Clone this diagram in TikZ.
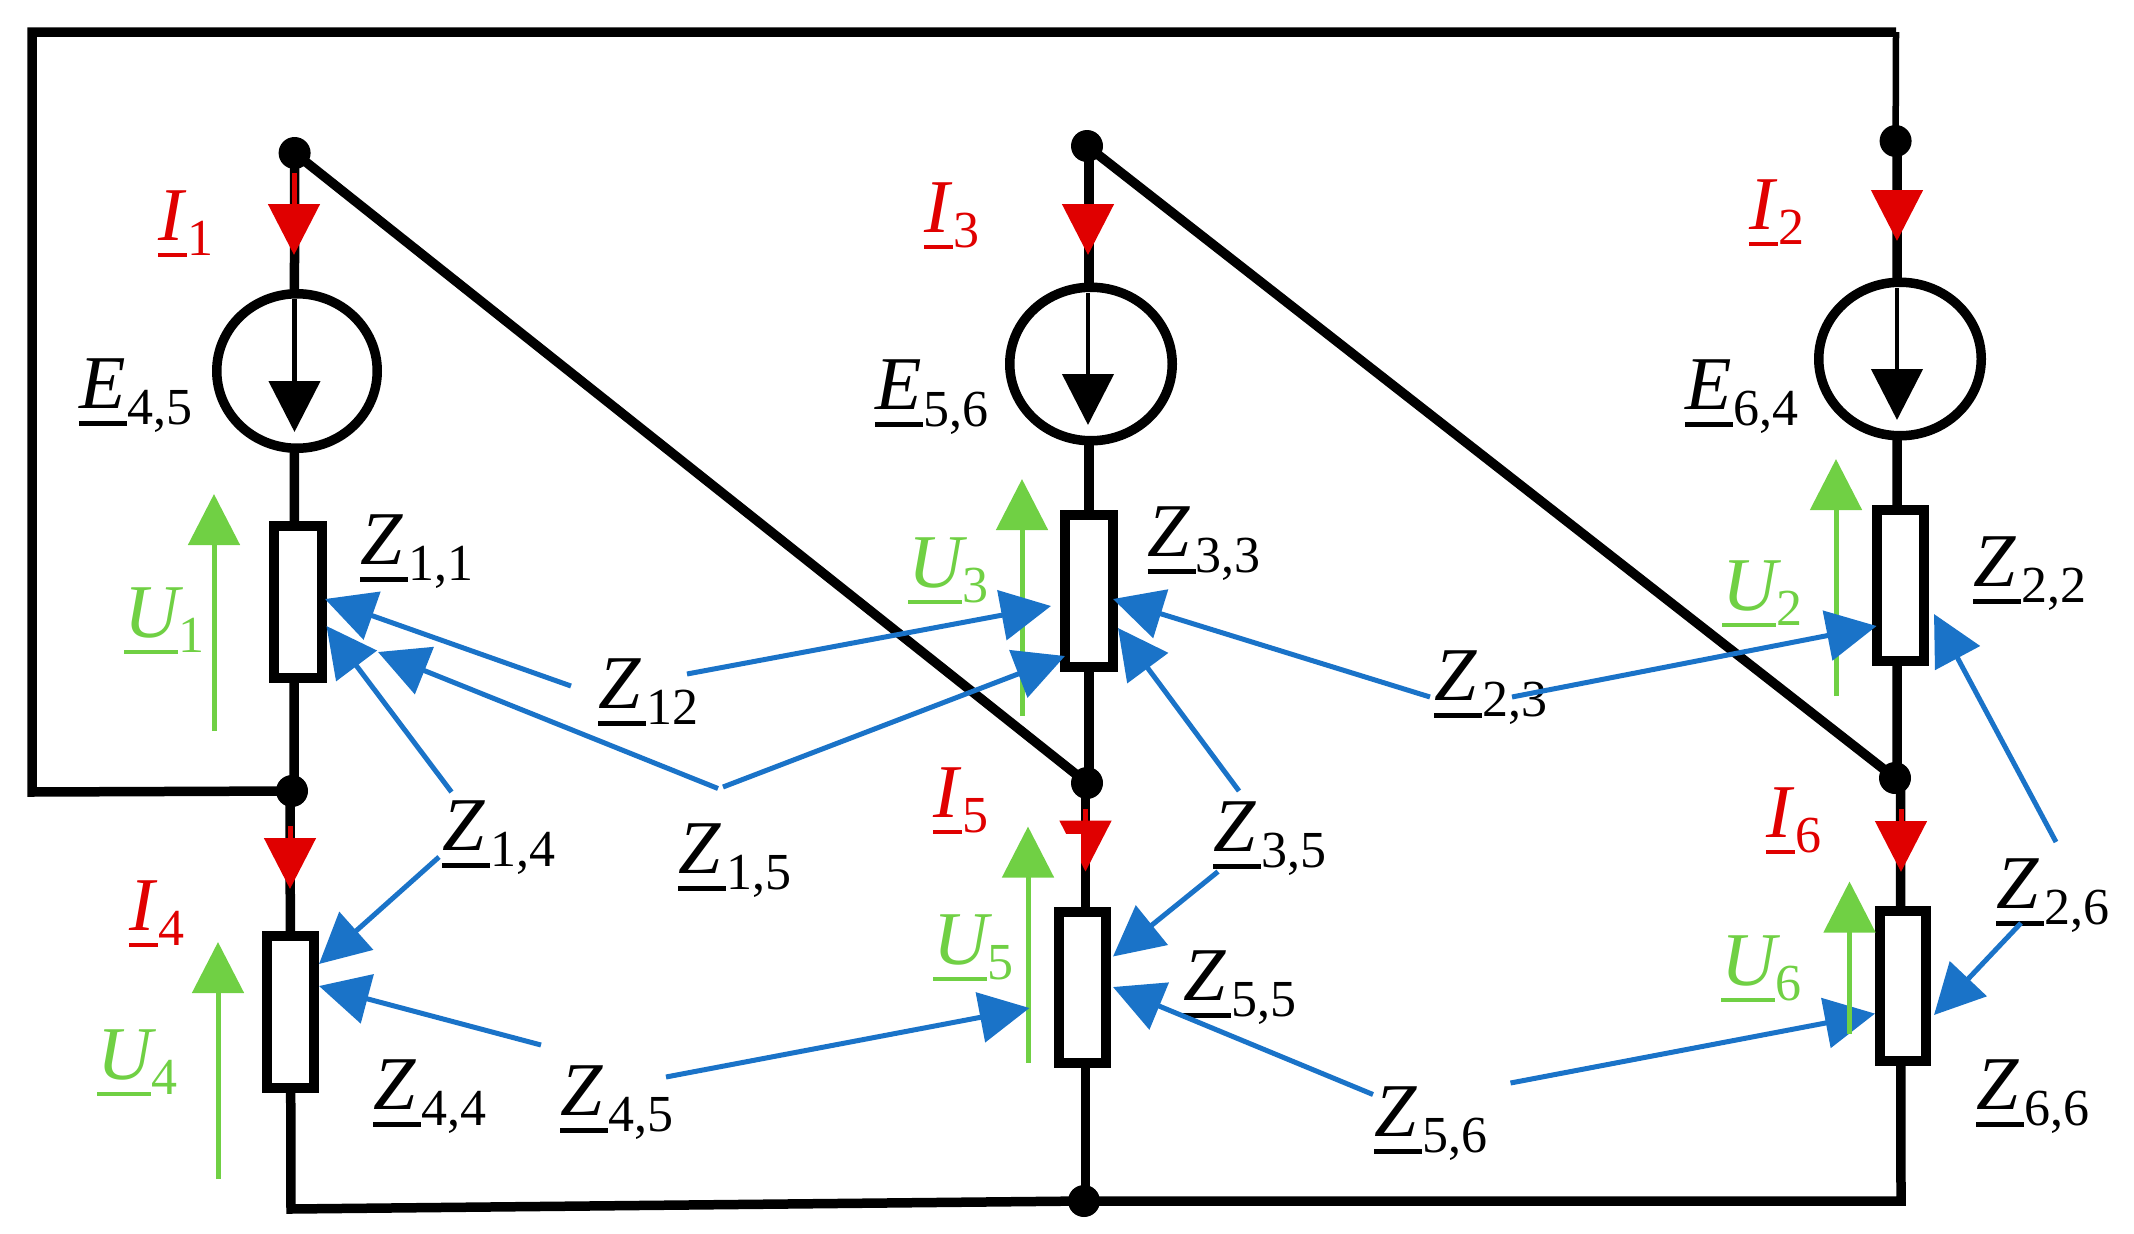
\documentclass[tikz,border=0pt]{standalone}
\usepackage{fontspec}
\setmainfont{Liberation Serif}
\usetikzlibrary{arrows.meta,shapes.geometric,backgrounds}
\definecolor{cblue}{HTML}{1A73C8}
\definecolor{cred}{HTML}{E00000}
\definecolor{cgreen}{HTML}{70D044}
% width, thickness, raise of sub, glyph, subscript
\newcommand\lablet[5]{%
  \makebox[0pt][l]{\rule[\dimexpr-#2pt/2\relax]{#1pt}{#2pt}}%
  \makebox[0pt][l]{\raisebox{15pt}{\fontsize{76}{76}\selectfont\itshape #4}}%
  \hspace*{#1pt}\raisebox{#3pt}{\fontsize{52}{52}\selectfont #5}}
\newcommand\zl[2]{\lablet{48}{5}{-1.5}{#1}{#2}}
\newcommand\ul[2]{\lablet{54}{3.5}{0}{#1}{#2}}
\newcommand\il[2]{\lablet{29}{3.5}{0}{#1}{#2}}
\tikzset{
  wire/.style={line width=9.5pt,line join=miter},
  thinwire/.style={line width=6.5pt},
  res/.style={draw,fill=white,line width=10pt,inner sep=0pt,outer sep=0pt},
  src/.style={ellipse,draw,fill=white,line width=9.5pt,inner sep=0pt,outer sep=0pt},
  dot/.style={circle,fill=black,inner sep=0pt,outer sep=0pt,minimum size=32pt},
  lab/.style={anchor=base west,inner sep=0pt,outer sep=0pt},
  blk/.style={line width=4.5pt,-{Triangle[length=51pt,width=51pt,fill=black]}},
  redarr/.style={cred,line width=5pt,-{Triangle[length=51pt,width=51pt,fill=cred]}},
  grnarr/.style={cgreen,line width=5pt,-{Triangle[length=51pt,width=51pt,fill=cgreen]}},
  bluarr/.style={cblue,line width=5pt,-{Triangle[length=50pt,width=50pt,fill=cblue]}},
}
\begin{document}
\begin{tikzpicture}[x=1pt,y=-1pt]
\useasboundingbox (0,0) rectangle (2134,1234);
% elements
\node[res,minimum width=48pt,minimum height=152pt] (r1) at (298,602) {};
\node[res,minimum width=48pt,minimum height=152.5pt] (r3) at (1089,591) {};
\node[res,minimum width=47pt,minimum height=151pt] (r2) at (1900.5,585.5) {};
\node[res,minimum width=47pt,minimum height=152pt] (r4) at (290.5,1012) {};
\node[res,minimum width=47pt,minimum height=151pt] (r5) at (1082.5,987.5) {};
\node[res,minimum width=45.5pt,minimum height=150.5pt] (r6) at (1903,986) {};
\node[src,minimum width=160.5pt,minimum height=154.5pt] (s1) at (297,371) {};
\node[src,minimum width=162.5pt,minimum height=153.5pt] (s3) at (1091,364) {};
\node[src,minimum width=162.5pt,minimum height=153.5pt] (s2) at (1900,359) {};
\node[dot] (d1) at (294.6,153) {};
\node[dot] (d3) at (1087,146) {};
\node[dot] (d2) at (1895.6,141) {};
\node[dot] (d4) at (292,791) {};
\node[dot] (d5) at (1087,783) {};
\node[dot] (d6) at (1895,778) {};
\node[dot] (d7) at (1084,1201) {};
\coordinate (ctl) at (32,32);
\coordinate (ctr) at (1896,32);
\coordinate (cbl) at (32,792);
\coordinate (cb1) at (291,1209);
\coordinate (cb3) at (1901,1201);
% wires
\begin{scope}[on background layer]
\draw[wire] (d4.center) -- (cbl) -- (ctl) -- (ctr);
\draw[thinwire] (ctr) -- (d2.center);
\draw[wire] (d1.center) -- ([xshift=2pt]d4.center);
\draw[wire] ([xshift=-2pt]d4.center) -- (cb1) -- (d7.center) -- (cb3) -- ([xshift=5.5pt]d6.center);
\draw[wire] ([xshift=2pt]d3.center) -- ([xshift=2pt]d5.center);
\draw[wire] ([xshift=-1.5pt]d5.center) -- ([xshift=1.5pt]d7.center);
\draw[wire] ([xshift=1.5pt]d2.center) -- ([xshift=2pt]d6.center);
\draw[wire] (d1.center) -- (d5.center);
\draw[wire] (d3.center) -- (d6.center);
\end{scope}
% source arrows
\coordinate (a1s) at (294.5,299); \coordinate (a1e) at (294.5,432);
\coordinate (a3s) at (1088,293);  \coordinate (a3e) at (1088,425);
\coordinate (a2s) at (1897,288);  \coordinate (a2e) at (1897,420);
\draw[blk] (a1s) -- (a1e);
\draw[blk] (a3s) -- (a3e);
\draw[blk] (a2s) -- (a2e);
% labels
\node[lab] (E45) at (79,423) {\zl{E}{4,5}};
\node[lab] (E56) at (875,424.5) {\zl{E}{5,6}};
\node[lab] (E64) at (1685,424) {\zl{E}{6,4}};
\begin{scope}[text=cred,every node/.append style={color=cred}]
\node[lab] (I1) at (158,255) {\il{I}{1}};
\node[lab] (I3) at (924,247) {\il{I}{3}};
\node[lab] (I2) at (1749,244) {\il{I}{2}};
\node[lab] (I5) at (933,832) {\il{I}{5}};
\node[lab] (I4) at (129,945) {\il{I}{4}};
\node[lab] (I6) at (1766,852) {\il{I}{6}};
\end{scope}
\begin{scope}[text=cgreen,every node/.append style={color=cgreen}]
\node[lab] (U1) at (124,652) {\ul{U}{1}};
\node[lab] (U3) at (908,602) {\ul{U}{3}};
\node[lab] (U2) at (1722,625) {\ul{U}{2}};
\node[lab] (U5) at (933,979) {\ul{U}{5}};
\node[lab] (U4) at (97,1094) {\ul{U}{4}};
\node[lab] (U6) at (1721,1000) {\ul{U}{6}};
\end{scope}
\node[lab] (Z11) at (360,579) {\zl{Z}{1,1}};
\node[lab] (Z33) at (1147.5,571) {\zl{Z}{3,3}};
\node[lab] (Z22) at (1973,601) {\zl{Z}{2,2}};
\node[lab] (Z12) at (598,723) {\zl{Z}{12}};
\node[lab] (Z14) at (442,865) {\zl{Z}{1,4}};
\node[lab] (Z15) at (678,888) {\zl{Z}{1,5}};
\node[lab] (Z44) at (373,1124) {\zl{Z}{4,4}};
\node[lab] (Z45) at (560,1130) {\zl{Z}{4,5}};
\node[lab] (Z23) at (1434,715) {\zl{Z}{2,3}};
\node[lab] (Z35) at (1213,866) {\zl{Z}{3,5}};
\node[lab] (Z55) at (1183,1015) {\zl{Z}{5,5}};
\node[lab] (Z56) at (1374,1151) {\zl{Z}{5,6}};
\node[lab] (Z26) at (1996,923) {\zl{Z}{2,6}};
\node[lab] (Z66) at (1976,1124) {\zl{Z}{6,6}};
% currents
\coordinate (i1s) at (294,173);   \coordinate (i1e) at (294,255);
\coordinate (i3s) at (1088,204);  \coordinate (i3e) at (1088,255);
\coordinate (i2s) at (1897,190);  \coordinate (i2e) at (1897,241);
\coordinate (i4s) at (290,826);   \coordinate (i4e) at (290,889);
\coordinate (i5s) at (1085.5,809);\coordinate (i5e) at (1085.5,871.6);
\coordinate (i6s) at (1901,809);  \coordinate (i6e) at (1901,872);
\draw[redarr] (i1s) -- (i1e);
\draw[redarr] (i3s) -- (i3e);
\draw[redarr] (i2s) -- (i2e);
\draw[redarr] (i4s) -- (i4e);
\draw[redarr] (i5s) -- (i5e);
\draw[redarr] (i6s) -- (i6e);
\fill[white] (1060,834) rectangle (1081,873);
% voltages
\coordinate (u1s) at (214,731);    \coordinate (u1e) at (214,494);
\coordinate (u3s) at (1022,716);   \coordinate (u3e) at (1022,479);
\coordinate (u2s) at (1836,696);   \coordinate (u2e) at (1836,459);
\coordinate (u4s) at (218,1179);   \coordinate (u4e) at (218,942);
\coordinate (u5s) at (1028,1063);  \coordinate (u5e) at (1028,826.5);
\coordinate (u6s) at (1849.5,1033.7); \coordinate (u6e) at (1849.5,881.5);
\draw[grnarr] (u1s) -- (u1e);
\draw[grnarr] (u3s) -- (u3e);
\draw[grnarr] (u2s) -- (u2e);
\draw[grnarr] (u4s) -- (u4e);
\draw[grnarr] (u5s) -- (u5e);
% couplings
\coordinate (b1s) at (571,686);     \coordinate (b1e) at (325,599);
\coordinate (b2s) at (687,674);     \coordinate (b2e) at (1051,606);
\coordinate (b3s) at (718,788.5);   \coordinate (b3e) at (378,652);
\coordinate (b4s) at (723,787);     \coordinate (b4e) at (1065,656);
\coordinate (b5s) at (451.5,792);   \coordinate (b5e) at (326.5,626);
\coordinate (b6s) at (439,857);     \coordinate (b6e) at (319,964);
\coordinate (b7s) at (541,1045);    \coordinate (b7e) at (319,986);
\coordinate (b8s) at (666,1077);    \coordinate (b8e) at (1029.5,1008);
\coordinate (b9s) at (1430,697);    \coordinate (b9e) at (1113,599);
\coordinate (b10s) at (1512,697);   \coordinate (b10e) at (1876.6,626);
\coordinate (b11s) at (1239,791);   \coordinate (b11e) at (1118,628);
\coordinate (b12s) at (1218,871.6); \coordinate (b12e) at (1113,956.5);
\coordinate (b13s) at (1373,1094.5);\coordinate (b13e) at (1113,987);
\coordinate (b14s) at (1510.5,1083);\coordinate (b14e) at (1875,1013.6);
\coordinate (b15s) at (2056,842);   \coordinate (b15e) at (1934,614);
\coordinate (b16s) at (2021,923);   \coordinate (b16e) at (1934,1015);
\foreach \n in {1,...,16} {\draw[bluarr] (b\n s) -- (b\n e);}
\draw[grnarr] (u6s) -- (u6e);
\end{tikzpicture}
\end{document}
